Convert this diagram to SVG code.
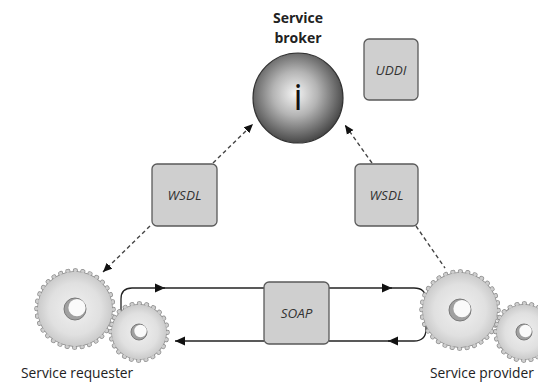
<svg xmlns="http://www.w3.org/2000/svg" width="538" height="387" viewBox="0 0 538 387">
  <style>
    .box { fill: #cfcfcf; stroke: #5a5a5a; stroke-width: 1.3; }
    .boxtxt { font-family: "Open Sans", "Liberation Sans", sans-serif; font-style: italic; font-size: 13.5px; fill: #333; text-anchor: middle; }
    .label { font-family: "Open Sans", "Liberation Sans", sans-serif; font-size: 13.8px; fill: #222; }
    .title { font-family: "Open Sans", "Liberation Sans", sans-serif; font-weight: bold; font-size: 14px; fill: #222; text-anchor: middle; }
    .flow { fill: none; stroke: #222; stroke-width: 1.3; }
    .dash { fill: none; stroke: #444; stroke-width: 1.4; stroke-dasharray: 4 3; }
    .teeth-edge { fill: none; stroke: #8a8a8a; stroke-linecap: round; stroke-dasharray: 0.1 0.9; }
    .teeth { fill: none; stroke: #cdcdcd; stroke-linecap: round; stroke-dasharray: 0.1 0.9; }
  </style>
  <defs>
    <radialGradient id="ball" cx="0.47" cy="0.45" r="0.55">
      <stop offset="0" stop-color="#f4f4f4"/>
      <stop offset="0.45" stop-color="#b4b4b4"/>
      <stop offset="1" stop-color="#484848"/>
    </radialGradient>
    <radialGradient id="gearFill" cx="0.5" cy="0.5" r="0.5">
      <stop offset="0" stop-color="#f0f0f0"/>
      <stop offset="0.7" stop-color="#e0e0e0"/>
      <stop offset="1" stop-color="#cbcbcb"/>
    </radialGradient>
    <marker id="solidHead" markerUnits="userSpaceOnUse" markerWidth="12" markerHeight="10" refX="10" refY="5" orient="auto">
      <path d="M0,0.5 L10,5 L0,9.5 Z" fill="#111"/>
    </marker>
    <marker id="dashHead" markerUnits="userSpaceOnUse" markerWidth="10" markerHeight="9" refX="9" refY="4.5" orient="auto">
      <path d="M0,0.5 L9,4.5 L0,8.5 Z" fill="#111"/>
    </marker>
    <!-- big gear, outer radius 40 -->
    <g id="gearBig">
      <circle r="38.5" class="teeth-edge" stroke-width="4.4" pathLength="32"/>
      <circle r="37.9" fill="#8a8a8a"/>
      <circle r="38.5" class="teeth" stroke-width="3" pathLength="32"/>
      <circle r="37.2" fill="url(#gearFill)"/>
      <circle r="11" fill="#a0a0a0" stroke="#7a7a7a" stroke-width="1"/>
      <circle cx="2" cy="-1.3" r="8.6" fill="#fafafa"/>
    </g>
    <!-- small gear, outer radius 30 -->
    <g id="gearSmall">
      <circle r="28.5" class="teeth-edge" stroke-width="4.4" pathLength="24"/>
      <circle r="27.9" fill="#8a8a8a"/>
      <circle r="28.5" class="teeth" stroke-width="3" pathLength="24"/>
      <circle r="27.2" fill="url(#gearFill)"/>
      <circle r="8" fill="#a0a0a0" stroke="#7a7a7a" stroke-width="1"/>
      <circle cx="1.5" cy="-1" r="6.2" fill="#fafafa"/>
    </g>
  </defs>

  <rect width="538" height="387" fill="#fff"/>

  <g id="connectors">
    <!-- SOAP message loop, requester side -->
    <path class="flow" d="M121,322 V299 Q121,288 132,288 H165" marker-end="url(#solidHead)"/>
    <path class="flow" d="M160,288 H264"/>
    <path class="flow" d="M264,341 H175" marker-end="url(#solidHead)"/>
    <!-- SOAP message loop, provider side -->
    <path class="flow" d="M329,288 H392" marker-end="url(#solidHead)"/>
    <path class="flow" d="M388,288 H414 Q426,288 426,300 V329 Q426,341 414,341 H388" marker-end="url(#solidHead)"/>
    <path class="flow" d="M392,341 H329"/>
    <!-- WSDL publish / find -->
    <path class="dash" d="M213,163 L253,124" marker-end="url(#dashHead)"/>
    <path class="dash" d="M372,163 L345,125" marker-end="url(#dashHead)"/>
    <path class="dash" d="M150,226 L103,272" marker-end="url(#dashHead)"/>
    <path class="dash" d="M416,226 L445,268"/>
  </g>

  <g id="broker">
    <text class="title" x="298" y="23">Service</text>
    <text class="title" x="298" y="43">broker</text>
    <circle cx="298" cy="98" r="45" fill="url(#ball)" stroke="#333" stroke-width="1.2"/>
    <text x="298" y="110" font-family="'Open Sans', 'Liberation Sans', sans-serif" font-size="36" fill="#111" text-anchor="middle">i</text>
  </g>

  <g id="uddi">
    <rect class="box" x="364" y="39" width="54" height="61" rx="5"/>
    <text class="boxtxt" x="391" y="75">UDDI</text>
  </g>

  <g id="wsdl-left">
    <rect class="box" x="152" y="164" width="65" height="62" rx="5"/>
    <text class="boxtxt" x="184.5" y="200">WSDL</text>
  </g>

  <g id="wsdl-right">
    <rect class="box" x="355" y="164" width="63" height="62" rx="5"/>
    <text class="boxtxt" x="386.5" y="200">WSDL</text>
  </g>

  <g id="soap">
    <rect class="box" x="264" y="282" width="65" height="62" rx="5"/>
    <text class="boxtxt" x="296.5" y="318">SOAP</text>
  </g>

  <g id="requester">
    <use href="#gearBig" x="75" y="309"/>
    <use href="#gearSmall" x="139" y="332"/>
    <text class="label" x="21" y="378">Service requester</text>
  </g>

  <g id="provider">
    <use href="#gearBig" x="460" y="310"/>
    <use href="#gearSmall" x="524" y="332"/>
    <text class="label" x="430" y="378">Service provider</text>
  </g>
</svg>
